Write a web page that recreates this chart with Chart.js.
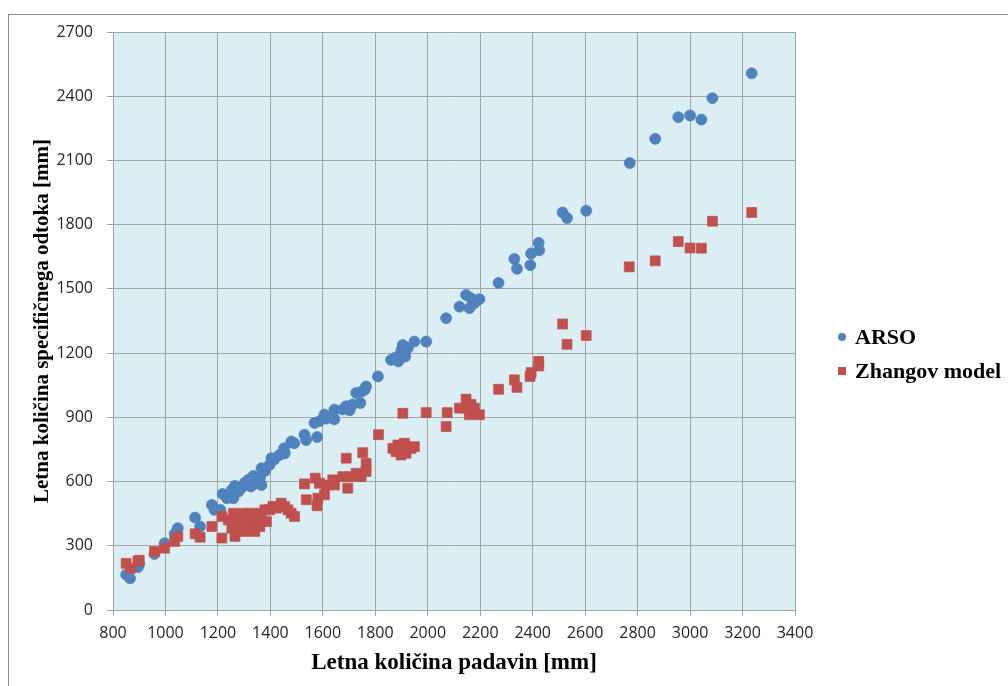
<!DOCTYPE html>
<html>
<head>
<meta charset="utf-8">
<script src="https://cdn.jsdelivr.net/npm/chart.js@4.4.1/dist/chart.umd.min.js"></script>
<style>
    html, body { margin: 0; padding: 0; background: #fff; }
    #okvir { position: relative; width: 1008px; height: 686px; overflow: hidden; }
    #rob { position: absolute; left: 8px; top: 14px; width: 1010px; height: 680px; border-left: 1px solid #8c8c8c; border-top: 1px solid #8c8c8c; }
    #graf { position: absolute; left: 0; top: 0; }
</style>
</head>
<body>
<div id="okvir">
    <canvas id="graf" width="1008" height="686"></canvas>
    <div id="rob"></div>
</div>
<script>
// ARSO - izmerjeno
const arsoX = [850, 865, 895, 900, 958, 997, 1035, 1047, 1113, 1132,
    1177, 1187, 1209, 1218, 1234, 1253, 1265, 1259, 1278, 1290,
    1303, 1316, 1326, 1335, 1347, 1360, 1366, 1366, 1380, 1397,
    1404, 1416, 1435, 1452, 1455, 1480, 1491, 1530, 1536, 1578,
    1568, 1587, 1606, 1613, 1638, 1644, 1644, 1676, 1689, 1702,
    1714, 1743, 1727, 1749, 1760, 1765, 1810, 1860, 1879, 1888,
    1900, 1905, 1914, 1924, 1949, 1994, 2070, 2121, 2146, 2159,
    2165, 2178, 2197, 2270, 2330, 2340, 2391, 2394, 2423, 2425,
    2514, 2531, 2604, 2770, 2867, 2955, 3000, 3043, 3085, 3235];
const arsoY = [165, 148, 200, 215, 262, 312, 356, 382, 432, 390,
    491, 468, 468, 542, 522, 561, 580, 522, 553, 570,
    595, 608, 577, 626, 592, 616, 662, 584, 650, 678,
    709, 704, 724, 755, 732, 787, 779, 819, 794, 808,
    874, 882, 913, 894, 903, 936, 891, 937, 952, 933,
    960, 967, 1014, 1021, 1030, 1044, 1091, 1168, 1181, 1161,
    1215, 1238, 1184, 1223, 1254, 1254, 1363, 1417, 1472, 1410,
    1456, 1433, 1452, 1528, 1640, 1594, 1611, 1665, 1715, 1680,
    1857, 1831, 1865, 2088, 2201, 2302, 2310, 2291, 2391, 2507];

// Zhangov model
const zhangX = [850, 867, 895, 900, 958, 997, 1035, 1047, 1113, 1132,
    1177, 1215, 1215, 1240, 1253, 1259, 1265, 1278, 1284, 1297,
    1303, 1316, 1322, 1328, 1341, 1347, 1360, 1366, 1379, 1385,
    1397, 1410, 1423, 1441, 1454, 1467, 1479, 1492, 1530, 1537,
    1571, 1581, 1578, 1606, 1587, 1613, 1638, 1644, 1676, 1689,
    1695, 1708, 1727, 1746, 1752, 1765, 1765, 1812, 1867, 1886,
    1911, 1936, 1949, 1898, 1879, 1917, 1905, 1994, 2074, 2070,
    2121, 2146, 2146, 2159, 2165, 2178, 2197, 2270, 2330, 2340,
    2390, 2394, 2423, 2423, 2514, 2531, 2604, 2768, 2867, 2955,
    3000, 3043, 3085, 3235];
const zhangY = [218, 195, 229, 232, 273, 289, 320, 343, 356, 340,
    390, 437, 336, 421, 382, 452, 344, 421, 382, 452,
    367, 421, 382, 452, 367, 421, 390, 452, 468, 413,
    468, 484, 476, 499, 484, 468, 452, 437, 589, 515,
    616, 522, 487, 538, 592, 584, 608, 584, 623, 709,
    569, 623, 639, 623, 735, 685, 647, 819, 755, 771,
    779, 755, 763, 724, 740, 732, 919, 922, 922, 857,
    943, 985, 943, 912, 960, 943, 912, 1031, 1075, 1040,
    1091, 1109, 1161, 1140, 1336, 1241, 1282, 1603, 1631, 1721,
    1691, 1690, 1816, 1857];

const xMin = 800, xMax = 3400, xKorak = 200;
const yMin = 0, yMax = 2700, yKorak = 300;

const barvaMreze = '#a3a3a3';
const barvaTeksta = '#262626';
const pisavaOsi = { family: '"Open Sans", sans-serif', size: 16 };
const pisavaNaslov = { family: '"Liberation Serif", "Times New Roman", serif', size: 21, weight: 'bold' };

const ozadjePlugin = {
    id: 'ozadje',
    beforeDraw(chart) {
        const { ctx, chartArea } = chart;
        ctx.save();
        ctx.fillStyle = '#ffffff';
        ctx.fillRect(0, 0, chart.width, chart.height);
        ctx.fillStyle = '#daeef3';
        ctx.fillRect(chartArea.left, chartArea.top, chartArea.right - chartArea.left, chartArea.bottom - chartArea.top);
        ctx.restore();
    }
};

const legendaPlugin = {
    id: 'legenda',
    afterDraw(chart) {
        const ctx = chart.ctx;
        ctx.save();
        ctx.font = 'bold 22px "Liberation Serif", serif';
        ctx.textBaseline = 'middle';
        chart.data.datasets.forEach((ds, i) => {
            const y = 337 + i * 34;
            ctx.fillStyle = ds.backgroundColor;
            if (ds.pointStyle === 'rect') {
                ctx.fillRect(838, y - 4, 8, 8);
            } else {
                ctx.beginPath();
                ctx.arc(842, y, 4, 0, Math.PI * 2);
                ctx.fill();
            }
            ctx.fillStyle = '#000';
            ctx.fillText(ds.label, 855, y + 1);
        });
        ctx.restore();
    }
};

const brezVejic = (v) => String(v);

const ctx = document.getElementById('graf').getContext('2d');
const graf = new Chart(ctx, {
    type: 'scatter',
    data: {
        datasets: [{
            label: 'ARSO',
            data: arsoX.map((x, i) => ({ x: x, y: arsoY[i] })),
            pointStyle: 'circle',
            pointRadius: 5.5,
            backgroundColor: '#4f81bd',
            borderColor: 'rgba(79, 129, 189, 0.7)',
            borderWidth: 1,
            order: 1
        }, {
            label: 'Zhangov model',
            data: zhangX.map((x, i) => ({ x: x, y: zhangY[i] })),
            pointStyle: 'rect',
            pointRadius: 7,
            backgroundColor: '#c0504d',
            borderColor: 'rgba(192, 80, 77, 0.7)',
            borderWidth: 1,
            order: 0
        }]
    },
    options: {
        responsive: false,
        animation: false,
        layout: { padding: { left: 0, top: 32, right: 213, bottom: 0 } },
        plugins: { legend: { display: false }, tooltip: { enabled: false } },
        scales: {
            x: {
                type: 'linear', min: xMin, max: xMax,
                ticks: { stepSize: xKorak, padding: 8, color: barvaTeksta, font: pisavaOsi, maxRotation: 0, callback: brezVejic },
                grid: { color: barvaMreze, tickLength: 6 },
                border: { color: barvaMreze },
                title: { display: true, text: 'Letna količina padavin [mm]', color: '#000', font: { ...pisavaNaslov, size: 23 }, padding: { top: 0, bottom: 9 } },
                afterFit: (s) => { s.height = 76; }
            },
            y: {
                type: 'linear', min: yMin, max: yMax,
                ticks: { stepSize: yKorak, padding: 14, color: barvaTeksta, font: pisavaOsi, callback: brezVejic },
                grid: { color: barvaMreze, tickLength: 6 },
                border: { color: barvaMreze },
                title: { display: true, text: 'Letna količina specifičnega odtoka [mm]', color: '#000', font: pisavaNaslov, padding: { top: 30, bottom: 0 } },
                afterFit: (s) => { s.width = 113; }
            }
        }
    },
    plugins: [ozadjePlugin, legendaPlugin]
});
</script>
</body>
</html>
